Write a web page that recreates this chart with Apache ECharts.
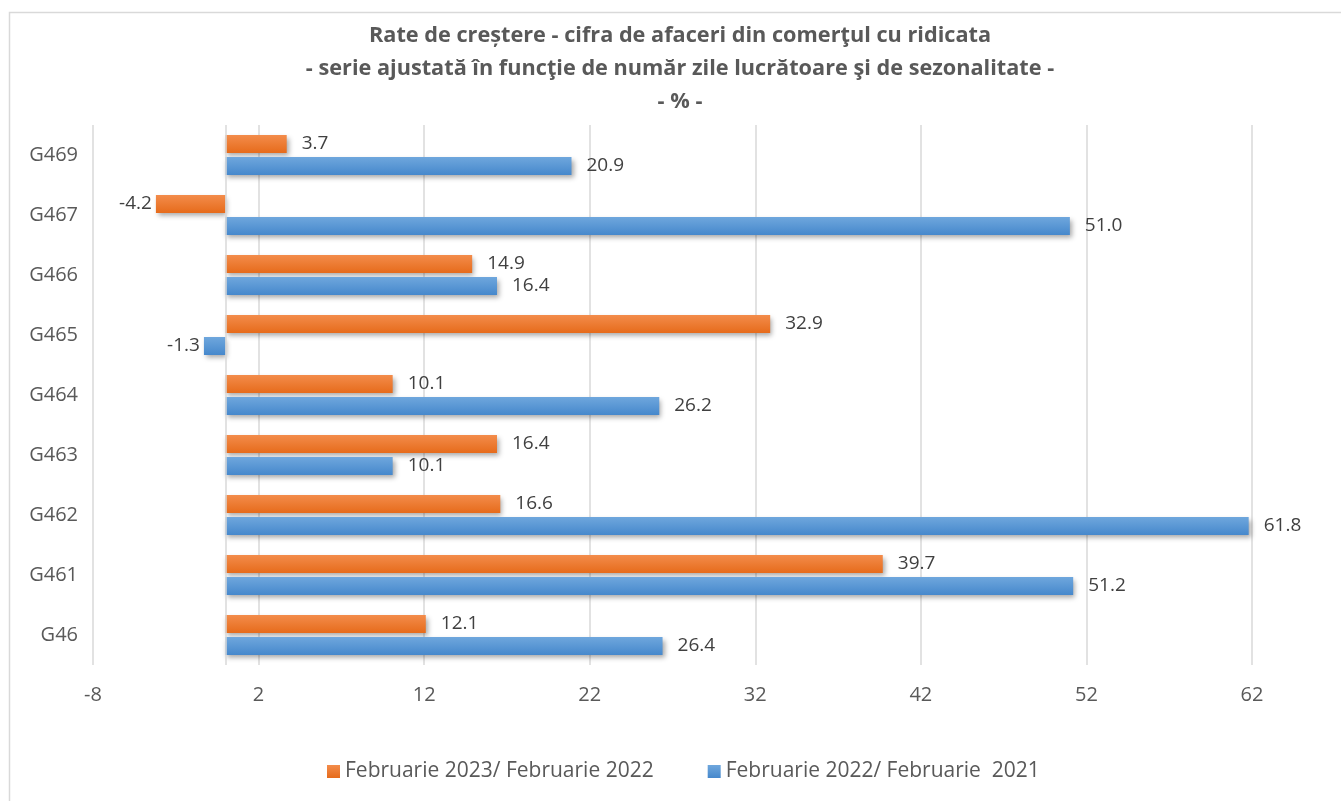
<!DOCTYPE html>
<html>
<head>
<meta charset="utf-8">
<script src="https://cdn.jsdelivr.net/npm/echarts@6/dist/echarts.min.js"></script>
<style>
html,body{margin:0;padding:0;background:#fff;}
#chart{width:1341px;height:801px;}
</style>
</head>
<body>
<div id="chart"></div>
<script>
const categories = ['G46','G461','G462','G463','G464','G465','G466','G467','G469'];
const seriesNames = ['Februarie 2023/ Februarie 2022','Februarie 2022/ Februarie  2021'];
const values2023 = [12.1, 39.7, 16.6, 16.4, 10.1, 32.9, 14.9, -4.2, 3.7];
const values2022 = [26.4, 51.2, 61.8, 10.1, 26.2, -1.3, 16.4, 51.0, 20.9];
const titleLines = ['Rate de creștere - cifra de afaceri din comerţul cu ridicata',
  '- serie ajustată în funcţie de număr zile lucrătoare şi de sezonalitate -',
  '- % -'];

const FONT = 'Open Sans';
const chart = echarts.init(document.getElementById('chart'));

function grad(top, bottom){
  return new echarts.graphic.LinearGradient(0,0,0,1,[{offset:0,color:top},{offset:1,color:bottom}]);
}
function mkSeries(name, data, cTop, cBot, withZero){
  const s = {
    name: name,
    type: 'bar',
    barWidth: 18,
    barGap: '22%',
    itemStyle: {
      color: grad(cTop, cBot),
      shadowBlur: 5,
      shadowOffsetX: 2,
      shadowOffsetY: 3,
      shadowColor: 'rgba(0,0,0,0.35)'
    },
    label: {
      show: true,
      position: 'right',
      distance: 15,
      color: '#404040',
      fontFamily: FONT,
      fontSize: 19,
      formatter: p => p.value.toFixed(1)
    }
  };
  s.data = data.map(v => v < 0 ? {value: v, label: {position: 'left', distance: 4}} : v);
  if (withZero){
    s.markLine = {
      silent: true,
      symbol: 'none',
      label: {show: false},
      lineStyle: {color: '#d9d9d9', width: 1.5, type: 'solid'},
      data: [{xAxis: 0}]
    };
  }
  return s;
}

chart.setOption({
  backgroundColor: '#ffffff',
  animation: false,
  title: {
    text: titleLines.join('\n'),
    left: 675,
    textAlign: 'center',
    top: 14,
    textStyle: {
      fontFamily: FONT,
      fontSize: 21.7,
      fontWeight: 'bold',
      color: '#595959',
      lineHeight: 33
    }
  },
  legend: {
    data: seriesNames,
    bottom: 14,
    left: 322,
    icon: 'rect',
    itemWidth: 13,
    itemHeight: 13,
    itemGap: 54,
    textStyle: {fontFamily: FONT, fontSize: 21, color: '#595959'},
    itemStyle: {shadowBlur: 0, shadowOffsetX: 0, shadowOffsetY: 0}
  },
  grid: {left: 93, right: 89, top: 125, bottom: 136, containLabel: false},
  xAxis: {
    type: 'value',
    min: -8,
    max: 62,
    interval: 10,
    axisLine: {show: false},
    axisTick: {show: false},
    splitLine: {show: true, lineStyle: {color: '#d9d9d9', width: 1.5}},
    axisLabel: {color: '#595959', fontFamily: FONT, fontSize: 20, margin: 20}
  },
  yAxis: {
    type: 'category',
    data: categories,
    axisLine: {show: false, onZero: false},
    axisTick: {show: false},
    splitLine: {show: false},
    axisLabel: {color: '#595959', fontFamily: FONT, fontSize: 20, margin: 15}
  },
  graphic: [{
    type: 'rect',
    shape: {x: 9.5, y: 12.5, width: 1345, height: 800},
    style: {fill: 'none', stroke: '#d9d9d9', lineWidth: 1.5},
    silent: true,
    z: 0
  }],
  series: [
    mkSeries(seriesNames[0], values2023, '#f38c4b', '#e66b1b', true),
    mkSeries(seriesNames[1], values2022, '#6fa7dd', '#4688cc', false)
  ]
});
</script>
</body>
</html>
